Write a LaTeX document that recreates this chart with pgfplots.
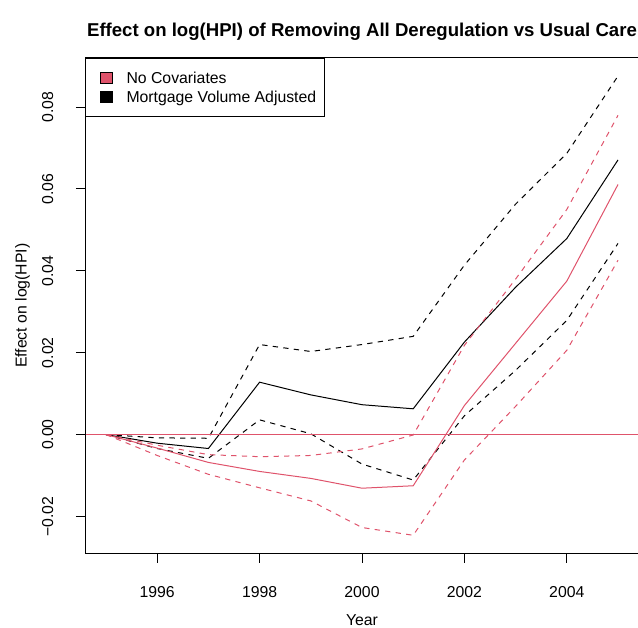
\documentclass[border=0pt]{standalone}
\usepackage{fontspec}
\setmainfont{Liberation Sans}
\usepackage{pgfplots}
\pgfplotsset{compat=1.18}
\definecolor{rred}{HTML}{DF536B}

\begin{document}
\begin{tikzpicture}
\path[use as bounding box] (0,0) rectangle (638bp,628bp);
\begin{axis}[
  at={(85.5bp,74.7bp)}, anchor=south west,
  scale only axis, width=553bp, height=495.3bp,
  xmin=1994.6, xmax=2005.4, ymin=-0.029, ymax=0.092,
  scaled y ticks=false, scaled x ticks=false,
  axis line style={line width=1bp},
  every tick/.style={black, line width=1bp},
  tick align=outside, tick pos=left, major tick length=9.6bp,
  xtick={1996,1998,2000,2002,2004},
  xticklabels={1996,1998,2000,2002,2004},
  ytick={-0.02,0,0.02,0.04,0.06,0.08},
  yticklabels={−0.02,0.00,0.02,0.04,0.06,0.08},
  font=\fontsize{15.8bp}{18bp}\selectfont,
  xticklabel style={anchor=base, yshift=-34.1bp},
  yticklabel style={xshift=-22.8bp, rotate=90, anchor=base},
  title={Effect on log(HPI) of Removing All Deregulation vs Usual Care},
  every axis title/.style={at={(axis description cs:0.5,1)}, anchor=base, yshift=21.7bp,
    font=\fontsize{18.6bp}{22bp}\selectfont\bfseries},
  xlabel={Year}, ylabel={Effect on log(HPI)},
  every axis x label/.style={at={(axis description cs:0.5,0)}, anchor=base, yshift=-72.2bp},
  every axis y label/.style={at={(axis description cs:0,0.5)}, xshift=-58.8bp, rotate=90, anchor=base},
  legend style={at={(0,1)}, anchor=north west, draw=black, line width=1bp,
    inner xsep=8.7bp, inner ysep=10.8bp, row sep=1.7bp,
    font=\fontsize{15.8bp}{18bp}\selectfont,
    nodes={inner sep=0pt, text height=14bp, text depth=3.3bp},
    /tikz/every even column/.append style={column sep=0pt}},
  legend cell align=left,
]
\addlegendimage{legend image code/.code={
  \path[draw=none, fill=none] (0bp,-6bp) rectangle (31.8bp,6bp);
  \draw[black, line width=0.8bp, fill=rred] (5.8bp,-5.8bp) rectangle (17.5bp,5.8bp);}}
\addlegendentry{No Covariates}
\addlegendimage{legend image code/.code={
  \path[draw=none, fill=none] (0bp,-6bp) rectangle (31.8bp,6bp);
  \draw[black, line width=0.8bp, fill=black] (5.8bp,-5.8bp) rectangle (17.5bp,5.8bp);}}
\addlegendentry{Mortgage Volume Adjusted}

% Mortgage volume adjusted
\addplot[forget plot, black, line width=1bp] coordinates {
(1995,0) (1996,-0.0021) (1997,-0.0034) (1998,0.0128) (1999,0.0097) (2000,0.0073)
(2001,0.0063) (2002,0.0226) (2003,0.0360) (2004,0.0479) (2005,0.0671)};
\addplot[forget plot, black, line width=1bp, dash pattern=on 5.3bp off 5.3bp] coordinates {
(1995,0) (1996,-0.0008) (1997,-0.0009) (1998,0.0220) (1999,0.0203) (2000,0.0220)
(2001,0.0240) (2002,0.0414) (2003,0.0563) (2004,0.0687) (2005,0.0876)};
\addplot[forget plot, black, line width=1bp, dash pattern=on 5.3bp off 5.3bp] coordinates {
(1995,0) (1996,-0.0034) (1997,-0.0058) (1998,0.0036) (1999,0.0002) (2000,-0.0072)
(2001,-0.0111) (2002,0.0046) (2003,0.0157) (2004,0.0279) (2005,0.0467)};

% No covariates
\addplot[forget plot, rred, line width=1bp] coordinates {
(1995,0) (1996,-0.0033) (1997,-0.0068) (1998,-0.0090) (1999,-0.0107) (2000,-0.0131)
(2001,-0.0125) (2002,0.0071) (2003,0.0223) (2004,0.0375) (2005,0.0611)};
\addplot[forget plot, rred, line width=1bp, dash pattern=on 5.3bp off 5.3bp] coordinates {
(1995,0) (1996,-0.0026) (1997,-0.0049) (1998,-0.0054) (1999,-0.0051) (2000,-0.0035)
(2001,-0.0001) (2002,0.0218) (2003,0.0380) (2004,0.0550) (2005,0.0780)};
\addplot[forget plot, rred, line width=1bp, dash pattern=on 5.3bp off 5.3bp] coordinates {
(1995,0) (1996,-0.0051) (1997,-0.0097) (1998,-0.0130) (1999,-0.0162) (2000,-0.0227)
(2001,-0.0246) (2002,-0.0062) (2003,0.0069) (2004,0.0206) (2005,0.0426)};

% zero reference line
\addplot[forget plot, rred, line width=1bp] coordinates {(1994.6,0) (2005.4,0)};
\end{axis}
\end{tikzpicture}
\end{document}
